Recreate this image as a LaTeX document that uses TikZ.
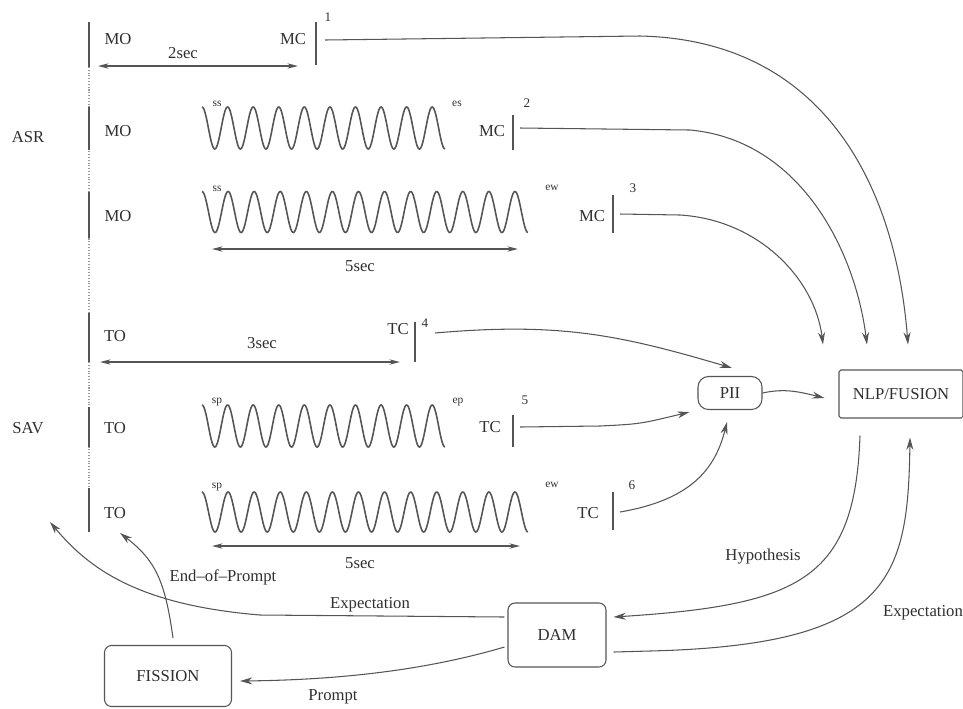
\documentclass[tikz,border=0pt]{standalone}
\usepackage{fontspec}
\setmainfont{Liberation Serif}
\usepackage{xcolor}
\definecolor{sigText}{HTML}{2F2F2F}
\definecolor{sigLine}{HTML}{555555}
\usetikzlibrary{arrows.meta,calc,positioning}

\begin{document}
\begin{tikzpicture}[x=0.02cm,y=-0.02cm,font=\fontsize{9.5}{11}\selectfont]
  \tikzset{
    lbl/.style={text=sigText,inner sep=1pt},
    tinylbl/.style={font=\fontsize{6.5}{7}\selectfont,text=sigText,inner sep=0.5pt},
    numlbl/.style={font=\fontsize{7.5}{8}\selectfont,text=sigText,inner sep=0.5pt},
    bar/.style={draw=sigLine,line width=0.8pt},
    wave/.style={draw=sigLine,line width=0.9pt},
    span/.style={draw=sigLine,line width=0.9pt,
      {Stealth[length=6pt,width=3pt]}-{Stealth[length=6pt,width=3pt]}},
    flow/.style={draw=sigLine,line width=0.6pt,-{Stealth[length=7pt,width=4pt]}},
    module/.style={draw=sigLine,line width=0.6pt,rounded corners=4pt,
      text=sigText,inner sep=2pt},
  }

  \useasboundingbox (0,0) rectangle (963,708);

  % time axis on the left
  \draw[sigLine!60,densely dotted,line width=0.6pt] (89,22) -- (89,532);
  \foreach \ya/\yb in {22/67,107/150,192/238,313/362,407/447,488/532}
    \draw[bar] (89,\ya) -- (89,\yb);

  \node[lbl] (asr) at (28,137) {ASR};
  \node[lbl] (sav) at (28,428) {SAV};

  \node[lbl] (mo1) at (118,39) {MO};
  \node[lbl] (mo2) at (118,131) {MO};
  \node[lbl] (mo3) at (118,216) {MO};
  \node[lbl] (to4) at (115,336) {TO};
  \node[lbl] (to5) at (115,428) {TO};
  \node[lbl] (to6) at (115,513) {TO};

  % speech / prompt signals
  \foreach \yc/\amp/\n/\len in {128/21/9.5/243,212/20.5/12.5/326,426/21/9.5/243,512/20/12.5/326}
    \draw[wave] plot[domain=0:\n,samples=500] ({202+\x*\len/\n},{\yc-\amp*cos(360*\x)});

  \node[tinylbl] (ss2) at (217,104) {ss};
  \node[tinylbl] (es2) at (457,104) {es};
  \node[tinylbl] (ss3) at (217,189) {ss};
  \node[tinylbl] (ew3) at (552,188) {ew};
  \node[tinylbl] (sp5) at (217,402) {sp};
  \node[tinylbl] (ep5) at (458,402) {ep};
  \node[tinylbl] (sp6) at (217,487) {sp};
  \node[tinylbl] (ew6) at (552,485) {ew};

  % durations
  \draw[span] (98,66) -- (298,66);
  \node[lbl] (d2) at (183,53) {2sec};
  \draw[span] (212,249) -- (518,249);
  \node[lbl] (d5a) at (360,266) {5sec};
  \draw[span] (100,362) -- (400,362);
  \node[lbl] (d3) at (262,343) {3sec};
  \draw[span] (212,546) -- (520,546);
  \node[lbl] (d5b) at (360,563) {5sec};

  % closing marks
  \node[lbl] (mc1) at (293,39) {MC};
  \node[lbl] (mc2) at (492,131) {MC};
  \node[lbl] (mc3) at (592,216) {MC};
  \node[lbl] (tc4) at (398,329) {TC};
  \node[lbl] (tc5) at (490,427) {TC};
  \node[lbl] (tc6) at (588,513) {TC};
  \draw[bar] (316,22) -- (316,65);
  \draw[bar] (513,115) -- (513,150);
  \draw[bar] (613,195) -- (613,233);
  \draw[bar] (415,322) -- (415,362);
  \draw[bar] (513,415) -- (513,447);
  \draw[bar] (613,492) -- (613,530);
  \node[numlbl] (n1) at (328,17) {1};
  \node[numlbl] (n2) at (527,103) {2};
  \node[numlbl] (n3) at (633,188) {3};
  \node[numlbl] (n4) at (425,323) {4};
  \node[numlbl] (n5) at (525,400) {5};
  \node[numlbl] (n6) at (632,485) {6};

  \coordinate (out1) at (325,40);
  \coordinate (out2) at (520,128);
  \coordinate (out3) at (620,214);
  \coordinate (out4) at (435,333);
  \coordinate (out5) at (520,427);
  \coordinate (out6) at (620,512);

  % modules
  \node[module,rounded corners=6pt,minimum width=1.28cm,minimum height=0.66cm] (pii) at (730,393) {PII};
  \node[module,rounded corners=1pt,minimum width=2.48cm,minimum height=0.96cm] (nlp) at (901,394) {NLP/FUSION};
  \node[module,minimum width=1.96cm,minimum height=1.28cm] (dam) at (557,635) {DAM};
  \node[module,minimum width=2.54cm,minimum height=1.22cm] (fission) at (168,676) {FISSION};

  % into NLP/FUSION
  \draw[flow] (out1) -- (640,36) .. controls (820,40) and (895,180) .. ($(nlp.north)+(7,-25)$);
  \draw[flow] (out2) -- (690,130) .. controls (800,140) and (855,250) .. ($(nlp.north)+(-34,-25)$);
  \draw[flow] (out3) -- (680,215) .. controls (760,220) and (815,280) .. ($(nlp.north)+(-78,-25)$);

  % into PII
  \draw[flow] (out4) .. controls (560,322) and (620,335) .. ($(pii.north)+(2,-8)$);
  \draw[flow] (out5) -- (600,426) .. controls (640,424) .. ($(pii.south west)+(-8,2)$);
  \draw[flow] (out6) .. controls (690,500) and (715,470) .. ($(pii.south)+(-3,12)$);
  \draw[flow] (pii.east) .. controls (785,388) and (800,392) .. ($(nlp.west)+(-14,4)$);

  % dialogue loop
  \draw[flow] ($(nlp.south)+(-41,17)$) .. controls (855,580) and (800,605) .. ($(dam.east)+(7,-18)$);
  \node[lbl] (hyp) at (763,556) {Hypothesis};
  \draw[flow] ($(dam.east)+(7,17)$) -- (650,651) .. controls (890,645) and (908,580) .. ($(nlp.south)+(9,19)$);
  \node[lbl] (expr) at (923,613) {Expectation};

  \coordinate (savin) at (50,522);
  \coordinate (toin) at (120,533);
  \draw[flow] ($(dam.west)+(-3,-18)$) -- (260,615) .. controls (140,605) and (90,570) .. (savin);
  \node[lbl] (expl) at (370,605) {Expectation};
  \draw[flow] ($(fission.north)+(5,-7)$) .. controls (165,580) and (155,560) .. (toin);
  \node[lbl] (eop) at (223,577) {End--of--Prompt};
  \draw[flow] ($(dam.west)+(-3,12)$) .. controls (420,672) and (330,680) .. ($(fission.east)+(8,5)$);
  \node[lbl] (prompt) at (333,697) {Prompt};
\end{tikzpicture}
\end{document}
